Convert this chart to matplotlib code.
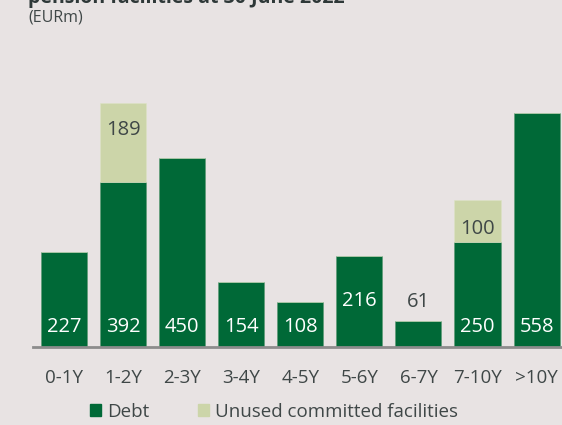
import matplotlib.pyplot as plt
from matplotlib.patches import Patch

categories = ['0-1Y', '1-2Y', '2-3Y', '3-4Y', '4-5Y', '5-6Y', '6-7Y', '7-10Y', '>10Y']
debt = [227, 392, 450, 154, 108, 216, 61, 250, 558]
unused = [0, 189, 0, 0, 0, 0, 0, 100, 0]

bg = '#e8e3e3'
dark_green = '#006937'
light_green = '#ccd5a9'
text_col = '#3f4747'

plt.rcParams['font.family'] = ['Open Sans', 'DejaVu Sans']

fig = plt.figure(figsize=(5.62, 4.25), dpi=100, facecolor=bg)
ax = fig.add_axes([33 / 562, 78 / 425, 529 / 562, 252 / 425])
ax.set_facecolor(bg)

x = list(range(len(categories)))
ax.bar(x, debt, width=0.78, color=dark_green, edgecolor='#5a9a72', linewidth=0.4)
ax.bar(x, unused, width=0.78, bottom=debt, color=light_green, edgecolor='#dde3c6', linewidth=0.4)

# value labels
for i, v in enumerate(debt):
    if categories[i] == '5-6Y':
        ax.text(i, 110, str(v), ha='center', va='center', color='white', fontsize=14.5)
    elif categories[i] == '6-7Y':
        ax.text(i, 108, str(v), ha='center', va='center', color=text_col, fontsize=14.5)
    else:
        ax.text(i, 48, str(v), ha='center', va='center', color='white', fontsize=14.5)
for i, u in enumerate(unused):
    if u > 0:
        ax.text(i, debt[i] + u * (0.66 if u > 150 else 0.3), str(u), ha='center', va='center',
                color=text_col, fontsize=14.5)

ax.set_xlim(-0.525, 8.43)
ax.set_ylim(0, 600)
ax.set_xticks(x)
ax.set_xticklabels(categories, fontsize=13.5, color=text_col)
ax.tick_params(axis='x', length=0, pad=16)
ax.set_yticks([])
for s in ['top', 'right', 'left']:
    ax.spines[s].set_visible(False)
ax.spines['bottom'].set_color('#8c8c8c')
ax.spines['bottom'].set_linewidth(2)

# title line is cut off at the top edge, as in the source
fig.text(28 / 562, 1 - 3 / 425, 'pension facilities at 30 June 2022', fontsize=14, fontweight='bold',
         color='#2e3838', ha='left', va='baseline')
fig.text(28 / 562, 1 - 18 / 425, '(EURm)', fontsize=11.5, color=text_col, ha='left', va='center')

handles = [Patch(color=dark_green, label='Debt'), Patch(color=light_green, label='Unused committed facilities')]
fig.legend(handles=handles, loc='center', bbox_to_anchor=(0.487, 1 - 412 / 425), ncol=2, frameon=False,
           fontsize=13.5, handlelength=0.6, handleheight=0.6, handletextpad=0.3, columnspacing=2.6,
           labelcolor=text_col)

fig.savefig('out.png', dpi=100, facecolor=bg)
